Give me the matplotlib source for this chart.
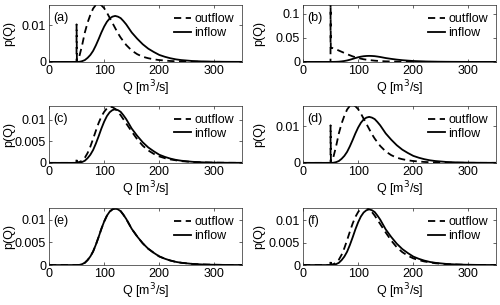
import matplotlib
matplotlib.use('Agg')
import matplotlib.pyplot as plt

plt.rcParams['font.family'] = ['Liberation Sans', 'DejaVu Sans']
plt.rcParams['font.size'] = 9

# inflow density (same in every panel)
q_in = [0, 50, 55, 60, 65, 70, 75, 80, 85, 90, 95, 100, 105, 110, 115, 120, 125,
        130, 135, 140, 145, 150, 160, 170, 180, 190, 200, 210, 220, 230, 240, 260,
        280, 300, 325, 350]
p_in = [0, 0, 0.00003, 0.0002, 0.0005, 0.0011, 0.0019, 0.0030, 0.0045, 0.0062,
        0.0080, 0.0096, 0.0109, 0.0118, 0.0123, 0.0125, 0.0123, 0.0119, 0.0111,
        0.0102, 0.0091, 0.0080, 0.0063, 0.0048, 0.0036, 0.0027, 0.0019, 0.0014,
        0.0010, 0.0007, 0.0005, 0.00025, 0.00012, 0.00006, 0.00002, 0.00001]

# outflow densities
q_out_a = [0, 49.9, 50, 50.6, 55, 60, 65, 70, 75, 80, 85, 90, 95, 100, 105, 110,
           115, 120, 125, 130, 140, 150, 160, 170, 180, 190, 200, 220, 240, 260,
           300, 350]
p_out_a = [0, 0, 0.0102, 0.0005, 0.0015, 0.0045, 0.0080, 0.0107, 0.0128, 0.0145,
           0.0155, 0.0158, 0.0154, 0.0146, 0.0134, 0.0120, 0.0106, 0.0092, 0.0078,
           0.0066, 0.0046, 0.0031, 0.0021, 0.0014, 0.0010, 0.0007, 0.0005, 0.00025,
           0.00012, 0.00006, 0.00001, 0]

q_out_b = [0, 49.9, 50, 50.4, 55, 60, 70, 80, 90, 100, 110, 120, 130, 140, 150,
           170, 200, 250, 350]
p_out_b = [0, 0, 0.125, 0.030, 0.028, 0.026, 0.021, 0.016, 0.0115, 0.0080, 0.0055,
           0.0038, 0.0026, 0.0018, 0.0012, 0.0006, 0.0002, 0.00003, 0]

q_out_c = [0, 49.9, 50, 50.5, 55, 60, 65, 70, 75, 80, 85, 90, 95, 100, 105, 110,
           115, 120, 125, 130, 140, 150, 160, 170, 180, 190, 200, 210, 220, 240,
           260, 300, 350]
p_out_c = [0, 0, 0.0012, 0.0001, 0.0002, 0.0005, 0.0012, 0.0023, 0.0038, 0.0056,
           0.0075, 0.0093, 0.0108, 0.0119, 0.0127, 0.0131, 0.0130, 0.0126, 0.0119,
           0.0111, 0.0092, 0.0073, 0.0055, 0.0040, 0.0029, 0.0021, 0.0015, 0.0011,
           0.0008, 0.0004, 0.0002, 0.00004, 0]

labels = ['(a)', '(b)', '(c)', '(d)', '(e)', '(f)']
outflows = [(q_out_a, p_out_a), (q_out_b, p_out_b), (q_out_c, p_out_c),
            (q_out_a, p_out_a), (q_in, p_in), (q_out_c, p_out_c)]
ymax = [0.0155, 0.118, 0.0133, 0.0155, 0.0126, 0.0128]
yticks = [[0, 0.01], [0, 0.05, 0.1], [0, 0.005, 0.01],
          [0, 0.01], [0, 0.005, 0.01], [0, 0.005, 0.01]]
ytlabels = [['0', '0.01'], ['0', '0.05', '0.1'], ['0', '0.005', '0.01'],
            ['0', '0.01'], ['0', '0.005', '0.01'], ['0', '0.005', '0.01']]
xticks = [0, 100, 200, 300]

fig = plt.figure(figsize=(5, 3.05), dpi=100)
lefts = [0.098, 0.606]
bottoms = [0.797, 0.466, 0.131]
ylab_x = [-0.175, -0.195]

for i in range(6):
    r, c = i // 2, i % 2
    ax = fig.add_axes([lefts[c], bottoms[r], 0.386, 0.187])
    qo, po = outflows[i]
    ax.plot(qo, po, color='black', lw=1.3, dashes=(4, 2.5), label='outflow')
    ax.plot(q_in, p_in, color='black', lw=1.3, label='inflow')
    ax.set_xlim(0, 350)
    ax.set_ylim(0, ymax[i])
    ax.set_xticks(xticks)
    ax.set_yticks(yticks[i])
    ax.set_yticklabels(ytlabels[i])
    ax.tick_params(direction='in', length=2.5, width=0.5, top=True, right=True,
                   pad=2, colors='0.15', labelcolor='black')
    for s in ax.spines.values():
        s.set_linewidth(0.5)
        s.set_color('0.15')
    ax.set_xlabel('Q [m$^3$/s]', labelpad=1)
    ax.set_ylabel('p(Q)')
    ax.yaxis.set_label_coords(ylab_x[c], 0.5)
    ax.text(0.02, 0.88, labels[i], transform=ax.transAxes, va='top', ha='left')
    ax.legend(loc='upper right', frameon=False, handlelength=1.3,
              handletextpad=0.3, labelspacing=0.15, borderaxespad=0.25,
              fontsize=9)

fig.savefig('out.png', dpi=100)
